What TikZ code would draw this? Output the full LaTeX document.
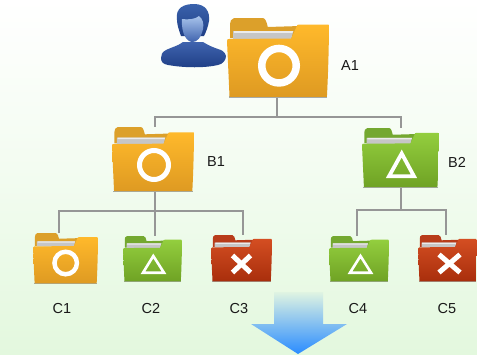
\documentclass[tikz,border=0pt]{standalone}
\usepackage{fontspec}
\setmainfont{Liberation Sans}
\definecolor{oT}{HTML}{FFB92B}\definecolor{oB}{HTML}{DE9A22}\definecolor{oD}{HTML}{DCA02A}
\definecolor{gT}{HTML}{93CE3E}\definecolor{gB}{HTML}{6FA224}\definecolor{gD}{HTML}{74A830}
\definecolor{rT}{HTML}{D44E22}\definecolor{rB}{HTML}{A82E0C}\definecolor{rD}{HTML}{B83C1A}
\definecolor{conn}{HTML}{969696}
\definecolor{bgG}{HTML}{E3F8DE}
\definecolor{pA}{HTML}{3A62AC}\definecolor{pB}{HTML}{1F3F86}\definecolor{pF}{HTML}{A8C4EC}\definecolor{pG}{HTML}{3F63AE}
\definecolor{arT}{HTML}{E0F4E2}\definecolor{arM}{HTML}{93C8F2}\definecolor{arB}{HTML}{2A8CFF}
\tikzset{
  folderbox/.style={inner sep=0pt,outer sep=0pt,rectangle},
  connector/.style={draw=conn,line width=1.7pt},
  lbl/.style={inner sep=0pt,font=\fontsize{14.5}{15}\selectfont,text=black!90},
  ring/.style={draw=white,line width=#1},
  tri/.style={draw=white,line width=#1,line join=miter},
  cross/.style={draw=white,line width=#1},
}
% #1 x-left #2 y-top #3 x-right #4 y-bottom #5 colour prefix
\newcommand{\folderart}[5]{%
  \pgfmathsetmacro{\fw}{(#3-#1)*0.01}%
  \pgfmathsetmacro{\fh}{(#4-#2)*-0.0125}%
  \begin{scope}[shift={(#1,#2)},x=\fw pt,y=\fh pt]
  \fill[#5D] (3,20) -- (3,6) .. controls (3,3) and (4,1) .. (7,0) -- (35,0) .. controls (38,0) and (39,5) .. (40,9) -- (72,8) -- (72,22) -- cycle;
  \fill[white!55!gray] (6,13) -- (65,13) -- (63,21) -- (6,21) -- cycle;
  \fill[white!85!gray] (7,13) -- (65,13) -- (64,15) -- (7,15) -- cycle;
  \fill[black!60,opacity=.55] (1.5,78.5) rectangle (98.5,80);
  \shade[top color=#5T,bottom color=#5B] (0,23) .. controls (0,21) and (1,21) .. (2,21) -- (63,20.5) -- (69,7) .. controls (69.5,6.5) and (70,6.5) .. (71,6.5) -- (99,6.5)
     .. controls (100,6.5) and (100,7) .. (100,9) .. controls (100,30) and (99,60) .. (98,79) -- (2.5,79) -- cycle;
  \end{scope}}
\begin{document}
\begin{tikzpicture}[x=1pt,y=-1pt]
\useasboundingbox (0,0) rectangle (477,354);
\shade[top color=white,bottom color=bgG,middle color=bgG!45!white] (0,0) rectangle (477,354);
% nodes
\node[folderbox,minimum width=102pt,minimum height=80pt] (A1) at (278,58) {};
\node[folderbox,minimum width=82pt,minimum height=65pt] (B1) at (153,159.5) {};
\node[folderbox,minimum width=77pt,minimum height=60pt] (B2) at (400.5,158) {};
\node[folderbox,minimum width=65pt,minimum height=51pt] (C1) at (65.5,258.5) {};
\node[folderbox,minimum width=59pt,minimum height=46pt] (C2) at (152.5,259) {};
\node[folderbox,minimum width=61pt,minimum height=47pt] (C3) at (241.5,258.5) {};
\node[folderbox,minimum width=60pt,minimum height=46pt] (C4) at (359,259) {};
\node[folderbox,minimum width=59pt,minimum height=47pt] (C5) at (447.5,258.5) {};
\coordinate (busA) at (277,117);
\coordinate (busB) at (155,211);
\coordinate (busC) at (401,210);
% connectors
\draw[connector] (busA |- A1.south) -- (busA);
\draw[connector] (busA) -| (busB |- B1.north);
\draw[connector] (busA) -| (busC |- B2.north);
\draw[connector] (busB |- B1.south) -- (busB);
\draw[connector] (busB) -| ([xshift=-6.5pt]C1.north);
\draw[connector] (busB) -- (busB |- C2.north);
\draw[connector] (busB) -| ([xshift=1.5pt]C3.north);
\draw[connector] (busC |- B2.south) -- (busC);
\draw[connector] (busC) -| ([xshift=-2pt]C4.north);
\draw[connector] (busC) -| ([xshift=-1.5pt]C5.north);
% folders
\folderart{227}{18}{329}{98}{o}
\folderart{112}{127}{194}{192}{o}
\folderart{362}{128}{439}{188}{g}
\folderart{33}{233}{98}{284}{o}
\folderart{123}{236}{182}{282}{g}
\folderart{211}{235}{272}{282}{r}
\folderart{329}{236}{389}{282}{g}
\folderart{418}{235}{477}{282}{r}
% symbols
\draw[ring=7.5pt] (279,65.7) circle (17.25pt);
\draw[ring=5pt] (154,165) circle (14.5pt);
\draw[tri=3.8pt] (401.7,153.5) -- (414,176.3) -- (389,176.3) -- cycle;
\draw[ring=4.5pt] (65.7,263) circle (11.25pt);
\draw[tri=2.6pt] (153.3,256) -- (164,272.7) -- (143,272.7) -- cycle;
\draw[tri=2.6pt] (360.5,256) -- (371,272.7) -- (350,272.7) -- cycle;
\draw[cross=5pt] (232.5,255.5) -- (250.5,272.5) (250.5,255.5) -- (232.5,272.5);
\draw[cross=5pt] (439,254.5) -- (460,272.5) (460,254.5) -- (439,272.5);
% person
\shade[top color=pG,bottom color=pB] (183,42) .. controls (178,46) and (172,47) .. (166,50) .. controls (162,52) and (161,55) .. (161,58) .. controls (161,62) and (163,64) .. (168,65) .. controls (185,68) and (205,68) .. (218,65) .. controls (223,64) and (226,60) .. (226,56) .. controls (225,52) and (222,50) .. (218,49) .. controls (212,47) and (208,45) .. (203,42) -- cycle;
\shade[top color=pA,bottom color=pB] (177,20) .. controls (175,7) and (185,4) .. (194,4) .. controls (206,4) and (210,12) .. (209,21) .. controls (208,27) and (206,32) .. (204,36) -- (181,36) .. controls (179,30) and (177,25) .. (177,20) -- cycle;
\shade[top color=pF,bottom color=pG] (182,19) .. controls (188,20) and (196,19) .. (199,16) .. controls (203,19) and (204,24) .. (203,29) .. controls (201,38) and (197,42) .. (192.5,42) .. controls (187,42) and (181,34) .. (182,19) -- cycle;
% arrow
\shade[top color=arT,middle color=arM,bottom color=arB] (274,292) -- (323,292) -- (323,324) -- (347,324) -- (298,354) -- (251,324) -- (274,324) -- cycle;
% labels
\node[lbl] at (350,66) {A1};
\node[lbl] at (216,162) {B1};
\node[lbl] at (457,162) {B2};
\node[lbl] at (62,309) {C1};
\node[lbl] at (151,309) {C2};
\node[lbl] at (239,309) {C3};
\node[lbl] at (358,309) {C4};
\node[lbl] at (447,309) {C5};
\end{tikzpicture}
\end{document}
